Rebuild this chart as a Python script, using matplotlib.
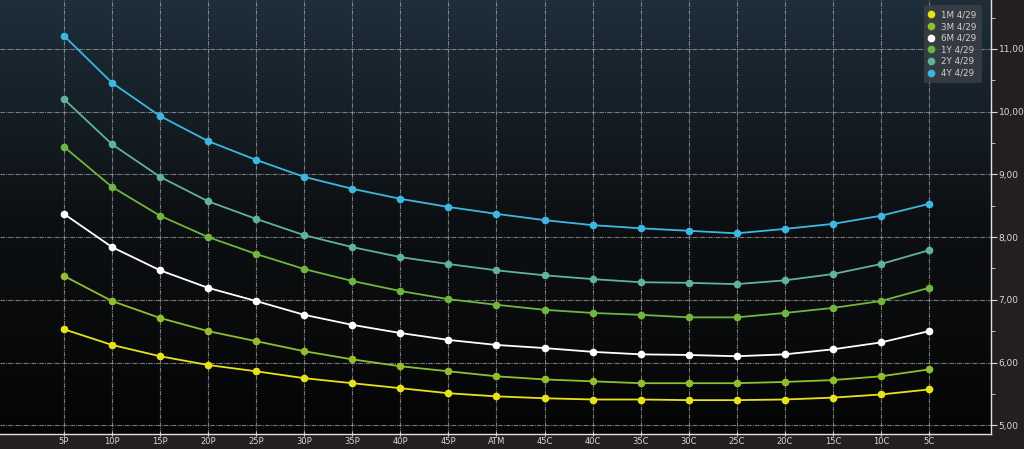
import numpy as np
import matplotlib
matplotlib.use("Agg")
import matplotlib.pyplot as plt
from matplotlib.colors import LinearSegmentedColormap

# Strikes (delta buckets)
strikes = ["5P", "10P", "15P", "20P", "25P", "30P", "35P", "40P", "45P", "ATM",
           "45C", "40C", "35C", "30C", "25C", "20C", "15C", "10C", "5C"]

# Implied vols by tenor
vol_1m = [6.53, 6.28, 6.10, 5.96, 5.86, 5.75, 5.67, 5.59, 5.51, 5.46,
          5.43, 5.41, 5.41, 5.40, 5.40, 5.41, 5.44, 5.49, 5.57]
vol_3m = [7.38, 6.98, 6.71, 6.50, 6.34, 6.18, 6.05, 5.94, 5.86, 5.78,
          5.73, 5.70, 5.67, 5.67, 5.67, 5.69, 5.72, 5.78, 5.89]
vol_6m = [8.37, 7.84, 7.47, 7.19, 6.98, 6.76, 6.60, 6.47, 6.36, 6.28,
          6.23, 6.17, 6.13, 6.12, 6.10, 6.13, 6.21, 6.32, 6.50]
vol_1y = [9.44, 8.80, 8.34, 8.00, 7.73, 7.49, 7.30, 7.14, 7.01, 6.92,
          6.84, 6.79, 6.76, 6.72, 6.72, 6.79, 6.87, 6.98, 7.19]
vol_2y = [10.20, 9.48, 8.96, 8.57, 8.29, 8.03, 7.84, 7.68, 7.57, 7.47,
          7.39, 7.33, 7.28, 7.27, 7.25, 7.31, 7.41, 7.57, 7.79]
vol_4y = [11.21, 10.46, 9.93, 9.53, 9.23, 8.96, 8.77, 8.61, 8.48, 8.37,
          8.27, 8.19, 8.14, 8.10, 8.06, 8.13, 8.21, 8.34, 8.53]

labels = ["1M 4/29", "3M 4/29", "6M 4/29", "1Y 4/29", "2Y 4/29", "4Y 4/29"]
series = [vol_1m, vol_3m, vol_6m, vol_1y, vol_2y, vol_4y]
colors = ["#e8e21c", "#8fbf2f", "#ffffff", "#6fb53f", "#5fb39a", "#3cb8e0"]

fig = plt.figure(figsize=(10.24, 4.49), dpi=100)
fig.patch.set_facecolor("#231f20")
ax = fig.add_axes([0.0, 15 / 449, 991 / 1024, 434 / 449])

x = np.arange(len(strikes))
ax.set_xlim(-1.33, 19.29)
ax.set_ylim(4.86, 11.78)

# background gradient, dark blue on top fading to black
cmap = LinearSegmentedColormap.from_list("bg", ["#050505", "#0d1013", "#1e2e3b"])
grad = np.linspace(0, 1, 256).reshape(-1, 1)
ax.imshow(grad, aspect="auto", cmap=cmap, origin="lower",
          extent=[-1.33, 19.29, 4.86, 11.78], zorder=0)

for vals, lab, col in zip(series, labels, colors):
    ax.plot(x, vals, color=col, lw=1.3, marker="o", ms=4.5, label=lab, zorder=3)

ax.set_xticks(x)
ax.set_xticklabels(strikes)
ax.set_yticks(np.arange(5, 12))
ax.set_yticklabels([f"{v:.2f}".replace(".", ",") for v in range(5, 12)])
ax.set_yticks(np.arange(5.5, 11.6, 1.0), minor=True)
ax.yaxis.tick_right()

ax.grid(True, color="#a8a8a8", ls=(0, (4, 1, 1, 1)), lw=0.8, alpha=0.7, zorder=1)
ax.set_axisbelow(True)

ax.tick_params(axis="x", colors="#d8d8d8", labelsize=6, length=3,
               direction="inout", pad=0.5)
ax.tick_params(axis="y", colors="#d8d8d8", labelsize=6.5, length=4, pad=1.5)
ax.tick_params(axis="y", which="minor", colors="#d8d8d8", length=3)
for side in ["left", "top"]:
    ax.spines[side].set_visible(False)
for side in ["right", "bottom"]:
    ax.spines[side].set_color("#e0e0e0")
    ax.spines[side].set_linewidth(1.0)

leg = ax.legend(loc="upper right", fontsize=6.3, frameon=True, handlelength=0.6,
                handletextpad=0.8, labelspacing=0.3, borderpad=0.6,
                bbox_to_anchor=(0.995, 0.998), markerscale=1.0)
leg.get_frame().set_facecolor("#3a3f44")
leg.get_frame().set_edgecolor("none")
leg.get_frame().set_alpha(0.85)
for h in leg.get_lines():
    h.set_linestyle("none")
for t in leg.get_texts():
    t.set_color("#d0d0d0")

fig.savefig("out.png", dpi=100, facecolor=fig.get_facecolor())
